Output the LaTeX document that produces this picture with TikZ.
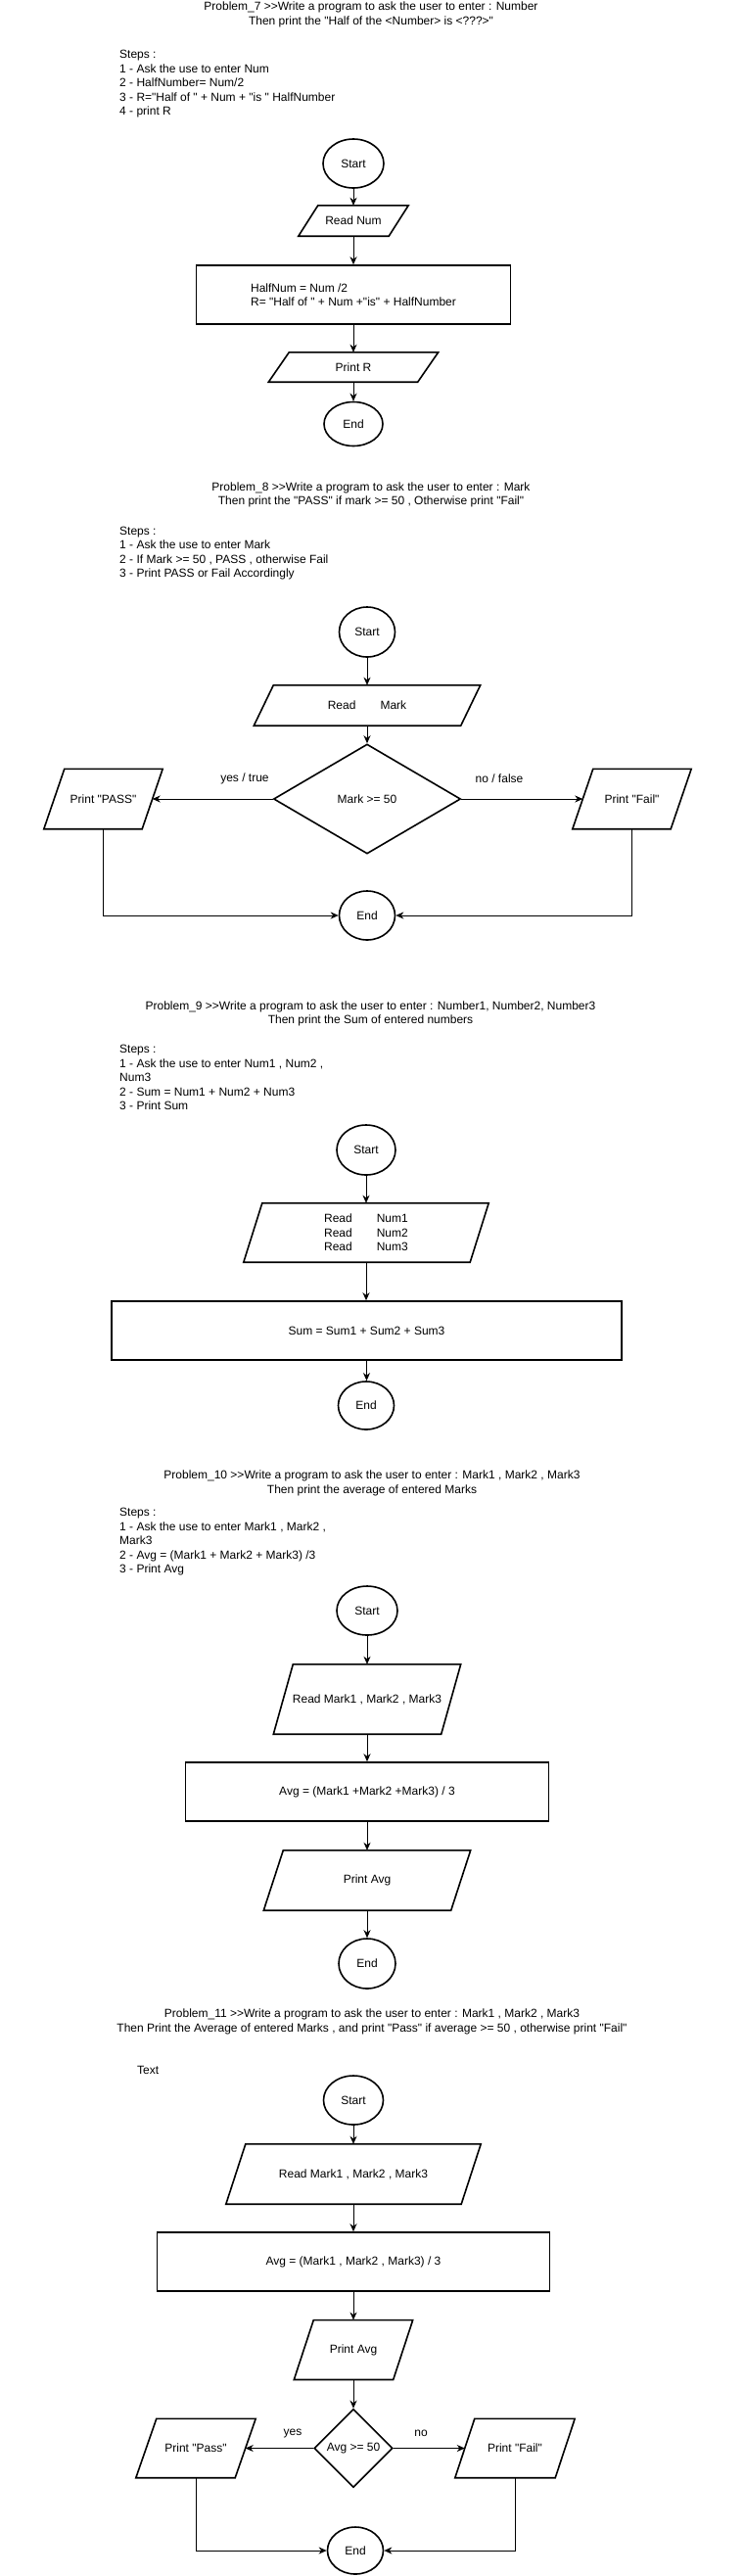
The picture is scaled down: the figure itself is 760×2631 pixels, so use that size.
\documentclass[tikz,border=0pt]{standalone}
\usepackage{fontspec}
\setmainfont{Liberation Sans}[Ligatures=TeXOff]
\usetikzlibrary{shapes.geometric,arrows.meta}
\newcommand{\myfs}{\fontsize{12}{14.5}\selectfont}
\tikzset{
  txt/.style={font=\myfs, inner sep=0pt, text=black},
  shapeline/.style={draw=black, line width=1.6pt, line join=miter},
  startend/.style={ellipse, draw=black, line width=1.6pt, inner sep=0pt, font=\myfs},
  procbox/.style={rectangle, draw=black, line width=1.6pt, inner sep=0pt, font=\myfs, align=left},
  decision/.style={diamond, draw=black, line width=1.6pt, inner sep=0pt, font=\myfs},
  paratext/.style={inner sep=0pt, font=\myfs, align=center},
  conn/.style={draw=black, line width=1pt, -{Stealth[length=8pt,width=7pt,inset=2.5pt]}},
  lbl/.style={font=\myfs, inner sep=0pt},
}
% name, x, y, bbox width, height, skew, text
\newcommand{\paranode}[7]{%
  \node[paratext, minimum width=#4pt, minimum height=#5pt] (#1) at (#2,#3) {#7};
  \draw[shapeline] ([xshift=#6pt]#1.north west) -- (#1.north east) -- ([xshift=-#6pt]#1.south east) -- (#1.south west) -- cycle;
  \coordinate (#1-e) at ([xshift=-#6pt/2]#1.east);
  \coordinate (#1-w) at ([xshift=#6pt/2]#1.west);
}
\begin{document}
\begin{tikzpicture}[x=1pt,y=-1pt]
\fill[white] (0,0) rectangle (760,2631);
\useasboundingbox (0,0) rectangle (760,2631);

% ---------------- Problem 7 ----------------
\node[txt, align=center] (t7) at (379,15) {Problem\_7 >>Write a program to ask the user to enter : Number\\Then print the "Half of the <Number> is <???>"};
\node[txt, align=left, anchor=west] (s7) at (122,85.6) {Steps :\\1 - Ask the use to enter Num\\2 - HalfNumber= Num/2\\3 - R="Half of " + Num + "is " HalfNumber\\4 - print R};
\node[startend, minimum width=62pt, minimum height=50pt] (start7) at (361,167) {Start};
\paranode{read7}{361}{225.5}{112}{31}{20}{Read Num}
\node[procbox, minimum width=321pt, minimum height=60pt] (proc7) at (361,301) {HalfNum = Num /2\\R= "Half of " + Num +"is" + HalfNumber};
\paranode{print7}{361}{375}{173}{30}{21}{Print R}
\node[startend, minimum width=60pt, minimum height=45pt] (end7) at (361,433) {End};
\draw[conn] (start7.south) -- (start7.south |- read7.north);
\draw[conn] (read7.south) -- (read7.south |- proc7.north);
\draw[conn] (proc7.south) -- (proc7.south |- print7.north);
\draw[conn] (print7.south) -- (print7.south |- end7.north);

% ---------------- Problem 8 ----------------
\node[txt, align=center] (t8) at (379,505.5) {Problem\_8 >>Write a program to ask the user to enter : Mark\\Then print the "PASS" if mark >= 50 , Otherwise print "Fail"};
\node[txt, align=left, anchor=west] (s8) at (122,565) {Steps :\\1 - Ask the use to enter Mark\\2 - If Mark >= 50 , PASS , otherwise Fail\\3 - Print PASS or Fail Accordingly};
\node[startend, minimum width=57pt, minimum height=51pt] (start8) at (375,645.5) {Start};
\paranode{read8}{375}{720.5}{231}{41}{20}{Read\hspace{25pt}Mark}
\node[decision, minimum width=191pt, minimum height=112pt] (dia8) at (375,816) {Mark >= 50};
\paranode{pass8}{105.5}{816}{121}{61}{21}{Print "PASS"}
\paranode{fail8}{645.5}{816}{121}{61}{21}{Print "Fail"}
\node[startend, minimum width=57pt, minimum height=50pt] (end8) at (375,935) {End};
\draw[conn] (start8.south) -- (start8.south |- read8.north);
\draw[conn] (read8.south) -- (read8.south |- dia8.north);
\draw[conn] (dia8.west) -- (pass8-e);
\draw[conn] (dia8.east) -- (fail8-w);
\draw[conn] (pass8.south) |- (end8.west);
\draw[conn] (fail8.south) |- (end8.east);
\node[lbl] (yes8) at (250,795) {yes / true};
\node[lbl] (no8) at (510,795) {no / false};

% ---------------- Problem 9 ----------------
\node[txt, align=center] (t9) at (378.5,1035.5) {Problem\_9 >>Write a program to ask the user to enter : Number1, Number2, Number3\\Then print the Sum of entered numbers};
\node[txt, align=left, anchor=west] (s9) at (122,1100.4) {Steps :\\1 - Ask the use to enter Num1 , Num2 ,\\Num3\\2 - Sum = Num1 + Num2 + Num3\\3 - Print Sum};
\node[startend, minimum width=60pt, minimum height=51pt] (start9) at (374,1174.5) {Start};
\paranode{read9}{374}{1259}{250}{60}{19}{Read\hspace{25pt}Num1\\Read\hspace{25pt}Num2\\Read\hspace{25pt}Num3}
\node[procbox, minimum width=521pt, minimum height=60pt] (sum9) at (374.5,1359) {Sum = Sum1 + Sum2 + Sum3};
\node[startend, minimum width=57pt, minimum height=49pt] (end9) at (374,1435.5) {End};
\draw[conn] (start9.south) -- (start9.south |- read9.north);
\draw[conn] (read9.south) -- (read9.south |- sum9.north);
\draw[conn] (sum9.south) -- (sum9.south |- end9.north);

% ---------------- Problem 10 ----------------
\node[txt, align=center] (t10) at (380,1515) {Problem\_10 >>Write a program to ask the user to enter : Mark1 , Mark2 , Mark3\\Then print the average of entered Marks};
\node[txt, align=left, anchor=west] (s10) at (122,1575) {Steps :\\1 - Ask the use to enter Mark1 , Mark2 ,\\Mark3\\2 - Avg = (Mark1 + Mark2 + Mark3) /3\\3 - Print Avg};
\node[startend, minimum width=62pt, minimum height=50pt] (start10) at (375,1645) {Start};
\paranode{read10}{375}{1735.5}{191}{71}{20}{Read Mark1 , Mark2 , Mark3}
\node[procbox, minimum width=371pt, minimum height=60pt] (avg10) at (375,1830) {Avg = (Mark1 +Mark2 +Mark3) / 3};
\paranode{print10}{375}{1920.5}{211}{61}{20}{Print Avg}
\node[startend, minimum width=58pt, minimum height=51pt] (end10) at (375,2005.5) {End};
\draw[conn] (start10.south) -- (start10.south |- read10.north);
\draw[conn] (read10.south) -- (read10.south |- avg10.north);
\draw[conn] (avg10.south) -- (avg10.south |- print10.north);
\draw[conn] (print10.south) -- (print10.south |- end10.north);

% ---------------- Problem 11 ----------------
\node[txt, align=center] (t11) at (380,2065) {Problem\_11 >>Write a program to ask the user to enter : Mark1 , Mark2 , Mark3\\Then Print the Average of entered Marks , and print "Pass" if average >= 50 , otherwise print "Fail"};
\node[txt, anchor=west] (s11) at (140,2114) {Text};
\node[startend, minimum width=61pt, minimum height=50pt] (start11) at (361,2145) {Start};
\paranode{read11}{361}{2220.5}{260}{61}{20}{Read Mark1 , Mark2 , Mark3}
\node[procbox, minimum width=401pt, minimum height=60pt] (avg11) at (361,2310) {Avg = (Mark1 , Mark2 , Mark3) / 3};
\paranode{print11}{361}{2400}{121}{60.5}{20}{Print Avg}
\node[decision, minimum width=80pt, minimum height=80pt] (dia11) at (361,2500.5) {Avg >= 50};
\paranode{pass11}{200}{2500.5}{122}{60}{21}{Print "Pass"}
\paranode{fail11}{526}{2500.5}{122}{60}{20}{Print "Fail"}
\node[startend, minimum width=57pt, minimum height=48pt] (end11) at (363,2605) {End};
\draw[conn] (start11.south) -- (start11.south |- read11.north);
\draw[conn] (read11.south) -- (read11.south |- avg11.north);
\draw[conn] (avg11.south) -- (avg11.south |- print11.north);
\draw[conn] (print11.south) -- (print11.south |- dia11.north);
\draw[conn] (dia11.west) -- (pass11-e);
\draw[conn] (dia11.east) -- (fail11-w);
\draw[conn] (pass11.south) |- (end11.west);
\draw[conn] (fail11.south) |- (end11.east);
\node[lbl] (yes11) at (299,2485) {yes};
\node[lbl] (no11) at (430,2485) {no};
\end{tikzpicture}
\end{document}
